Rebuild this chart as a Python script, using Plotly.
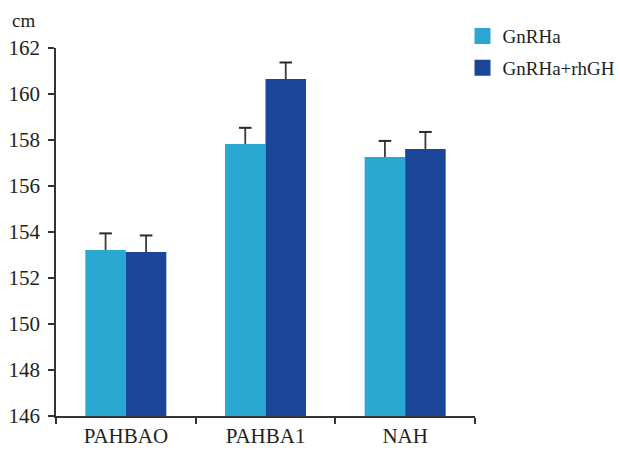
import plotly.graph_objects as go

categories = ["PAHBAO", "PAHBA1", "NAH"]
series_names = ["GnRHa", "GnRHa+rhGH"]
gnrha = [153.22, 157.83, 157.26]
gnrha_err = [0.72, 0.70, 0.70]
combo = [153.13, 160.65, 157.61]
combo_err = [0.72, 0.72, 0.74]
y_ticks = [146, 148, 150, 152, 154, 156, 158, 160, 162]
y_unit = "cm"

colors = ["#2aa8d1", "#1a4599"]
values = [gnrha, combo]
errors = [gnrha_err, combo_err]
FAM = "Liberation Serif, Times New Roman, serif"
font = dict(family=FAM, size=20, color="#231f20")
GAP = 0.42

fig = go.Figure()
for i in range(2):
    fig.add_trace(go.Bar(
        x=categories, y=values[i], name=series_names[i], showlegend=False,
        offsetgroup=str(i), marker=dict(color=colors[i], line=dict(width=0)),
        error_y=dict(type="data", symmetric=False, array=errors[i], arrayminus=[0] * 3,
                     color="#3a3a3a", thickness=1.8, width=0),
    ))
for i in range(2):
    tops = [v + e for v, e in zip(values[i], errors[i])]
    fig.add_trace(go.Scatter(
        x=categories, y=tops, mode="markers", showlegend=False, offsetgroup=str(i),
        marker=dict(symbol="line-ew", size=9, line=dict(color="#2a2a2a", width=2)),
        hoverinfo="skip",
    ))
for i in range(2):
    fig.add_trace(go.Scatter(
        x=[None], y=[None], mode="markers", name=series_names[i], legendgroup=str(i),
        marker=dict(symbol="square", size=18, color=colors[i]),
    ))

fig.update_layout(
    width=620, height=450,
    margin=dict(l=56, r=145, t=48, b=34, autoexpand=False),
    paper_bgcolor="white", plot_bgcolor="white",
    font=font,
    barmode="group", bargap=GAP, bargroupgap=0,
    scattermode="group", scattergap=GAP,
    showlegend=True,
    legend=dict(
        xref="container", yref="container", x=0.746, y=0.962, xanchor="left", yanchor="top",
        font=dict(family=FAM, size=19, color="#231f20"),
        itemwidth=30, tracegroupgap=4, bgcolor="rgba(0,0,0,0)",
    ),
    xaxis=dict(
        showline=True, linecolor="#333", linewidth=1.5, automargin=False,
        ticks="outside", tickson="boundaries", ticklen=6, tickcolor="#333", tickwidth=1.5,
        showgrid=False, range=[-0.5, 2.5], tickfont=dict(size=21),
    ),
    yaxis=dict(
        range=[146, 162], tickvals=y_ticks, showline=True, linecolor="#333", linewidth=1.5,
        automargin=False, ticks="outside", ticklen=6, tickcolor="#333", tickwidth=1.5,
        showgrid=False, zeroline=False, tickfont=dict(size=21), ticklabelstandoff=4,
    ),
    annotations=[dict(
        text=y_unit, xref="paper", yref="paper", x=-0.11, y=1.075, xanchor="left", yanchor="middle",
        showarrow=False, font=dict(size=19),
    )],
)

fig.write_html("out.html", config={"displayModeBar": False},
               post_script="document.body.style.margin='0';")
